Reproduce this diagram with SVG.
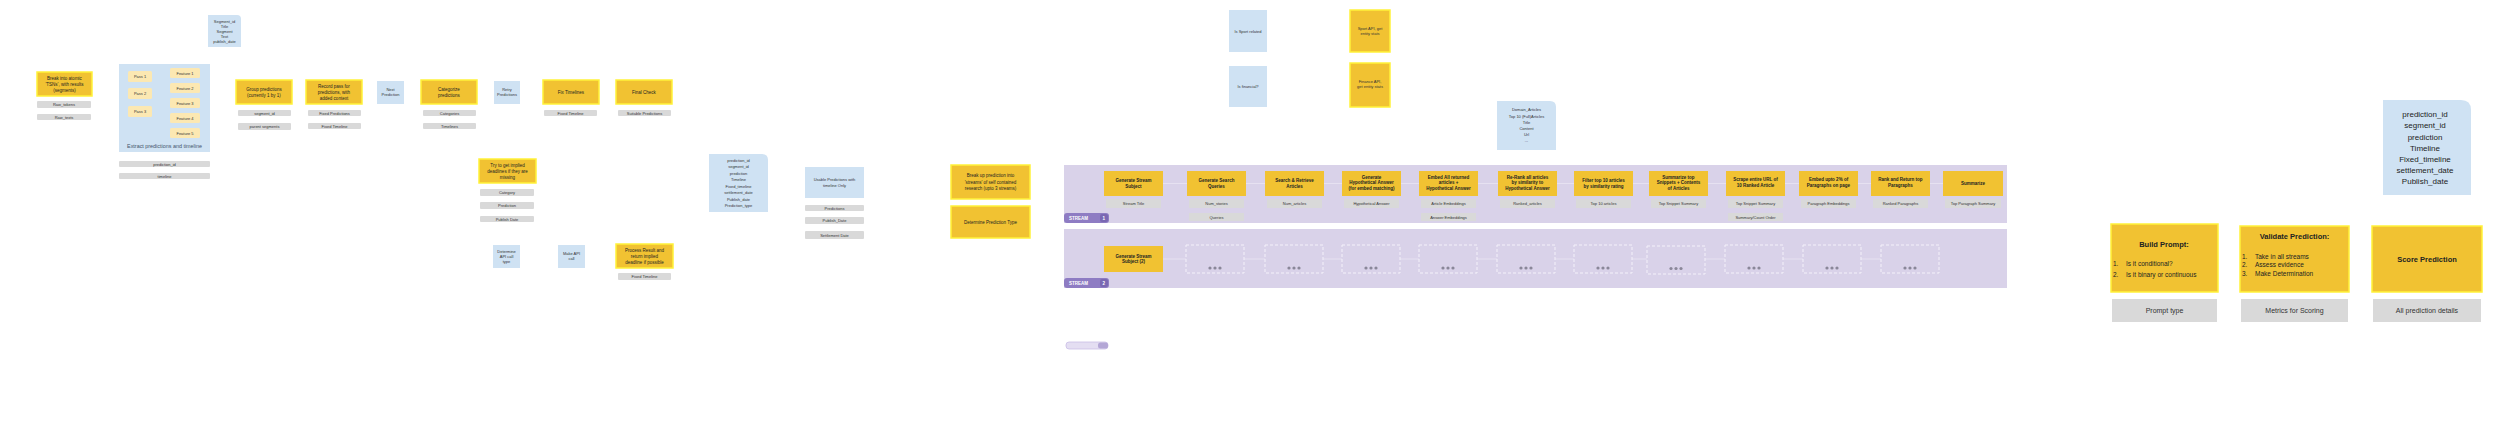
<svg xmlns="http://www.w3.org/2000/svg" width="2500" height="423" viewBox="0 0 2500 423">
<defs>
<style>
.y{fill:#F1C232;stroke:#FFF23A;stroke-width:1.5}
.yl{fill:#F1C232}
.yp{fill:#FCE8B2}
.b{fill:#CFE2F3}
.g{fill:#D9D9D9}
.lane{fill:#D9D2E9}
.tag{fill:#8E7CC3}
.dash{fill:none;stroke:#F4F1FA;stroke-width:1;stroke-dasharray:3 2}
.t{font-family:"Liberation Sans",Arial,sans-serif;font-size:4.5px;fill:#222;text-anchor:middle}
.tb{font-family:"Liberation Sans",Arial,sans-serif;font-size:4.5px;font-weight:bold;fill:#222;text-anchor:middle}
.ts{font-family:"Liberation Sans",Arial,sans-serif;font-size:4px;fill:#333;text-anchor:middle}
.tw{font-family:"Liberation Sans",Arial,sans-serif;font-size:4.5px;font-weight:bold;fill:#fff}
.tl{font-family:"Liberation Sans",Arial,sans-serif;font-size:8px;fill:#222;text-anchor:middle}
.tL{font-family:"Liberation Sans",Arial,sans-serif;font-size:7px;fill:#333;text-anchor:middle}
.tm{font-family:"Liberation Sans",Arial,sans-serif;font-size:6.5px;fill:#222}
.tbig{font-family:"Liberation Sans",Arial,sans-serif;font-size:7.5px;font-weight:bold;fill:#222;text-anchor:middle}
.dot{fill:#8A8799}
.c{fill:none;stroke:#E6E1F1;stroke-width:1}
.cw{fill:none;stroke:#FFFFFF;stroke-width:2}
</style>
</defs>
<rect width="2500" height="423" fill="#FFFFFF"/>

<g id="lanes">
<rect class="lane" x="1064" y="165" width="943" height="58"/>
<rect class="lane" x="1064" y="229" width="943" height="59"/>
<rect class="tag" x="1064" y="213" width="45" height="10" rx="3"/>
<rect fill="#7A68B3" x="1100" y="214" width="8" height="8" rx="2"/>
<text class="tw" x="1069" y="219.6">STREAM</text><text class="tw" x="1102.5" y="219.6">1</text>
<rect class="tag" x="1064" y="278" width="45" height="10" rx="3"/>
<rect fill="#7A68B3" x="1100" y="279" width="8" height="8" rx="2"/>
<text class="tw" x="1069" y="284.6">STREAM</text><text class="tw" x="1102.5" y="284.6">2</text>
<rect x="1066" y="342" width="42" height="7" rx="3" fill="#E4DEF2" stroke="#C9BEE6" stroke-width="0.8"/>
<rect x="1098" y="342.5" width="10" height="6" rx="2.5" fill="#B4A7D6"/>
</g>

<g id="connectors">
<line class="cw" x1="2427" y1="195" x2="2427" y2="226"/>
<line class="cw" x1="990" y1="199" x2="990" y2="206"/>
<path class="c" d="M1163 183.5H1187M1246 183.5H1265M1324 183.5H1342M1401 183.5H1419M1478 183.5H1498M1557 183.5H1574M1633 183.5H1649M1708 183.5H1726M1785 183.5H1799M1858 183.5H1871M1930 183.5H1943"/>
<path class="c" d="M1163 259H1186M1244 259H1265M1323 259H1342M1400 259H1419M1477 259H1497M1555 259H1574M1632 259H1647M1705 259H1725M1783 259H1803M1861 259H1881"/>
</g>

<g id="n-note-top">
<path class="b" d="M208 15H237Q241 15 241 19V47H208Z"/>
<text class="ts" x="224.5" y="23">Segment_id</text>
<text class="ts" x="224.5" y="28">Title</text>
<text class="ts" x="224.5" y="33">Segment</text>
<text class="ts" x="224.5" y="38">Text</text>
<text class="ts" x="224.5" y="43">publish_date</text>
</g>

<g id="n-break-atomic">
<rect class="y" x="37" y="72" width="55" height="24"/>
<text class="t" x="64.5" y="79.5">Break into atomic</text>
<text class="t" x="64.5" y="85.5">'TSNs', with results</text>
<text class="t" x="64.5" y="91.5">(segments)</text>
<rect class="g" x="37" y="101" width="54" height="7" rx="1"/><text class="ts" x="64" y="106">Raw_tokens</text>
<rect class="g" x="37" y="114" width="54" height="6" rx="1"/><text class="ts" x="64" y="118.5">Raw_texts</text>
</g>

<g id="n-extract">
<rect class="b" x="119" y="64" width="91" height="88"/>
<rect class="yp" x="128" y="71" width="24" height="11" rx="1.5"/><text class="ts" x="140" y="78">Pass 1</text>
<rect class="yp" x="128" y="88" width="24" height="11" rx="1.5"/><text class="ts" x="140" y="95">Pass 2</text>
<rect class="yp" x="128" y="106" width="24" height="11" rx="1.5"/><text class="ts" x="140" y="113">Pass 3</text>
<rect class="yp" x="170" y="68" width="30" height="10" rx="1.5"/><text class="ts" x="185" y="74.5">Feature 1</text>
<rect class="yp" x="170" y="83" width="30" height="10" rx="1.5"/><text class="ts" x="185" y="89.5">Feature 2</text>
<rect class="yp" x="170" y="98" width="30" height="10" rx="1.5"/><text class="ts" x="185" y="104.5">Feature 3</text>
<rect class="yp" x="170" y="113" width="30" height="10" rx="1.5"/><text class="ts" x="185" y="119.5">Feature 4</text>
<rect class="yp" x="170" y="128" width="30" height="10" rx="1.5"/><text class="ts" x="185" y="134.5">Feature 5</text>
<text x="164.5" y="148" style="font-family:'Liberation Sans',Arial,sans-serif;font-size:5.4px;fill:#44546A;text-anchor:middle">Extract predictions and timeline</text>
<rect class="g" x="119" y="161" width="91" height="6" rx="1"/><text class="ts" x="164.5" y="165.5">prediction_id</text>
<rect class="g" x="119" y="173" width="91" height="6" rx="1"/><text class="ts" x="164.5" y="177.5">timeline</text>
</g>

<g id="n-group">
<rect class="y" x="236" y="80" width="56" height="24"/>
<text class="t" x="264" y="90.5">Group predictions</text>
<text class="t" x="264" y="96.5">(currently 1 by 1)</text>
<rect class="g" x="238" y="110" width="53" height="6" rx="1"/><text class="ts" x="264.5" y="114.5">segment_id</text>
<rect class="g" x="238" y="123" width="53" height="7" rx="1"/><text class="ts" x="264.5" y="128">parent segments</text>
</g>

<g id="n-record">
<rect class="y" x="306" y="80" width="56" height="24"/>
<text class="t" x="334" y="87.5">Record pass for</text>
<text class="t" x="334" y="93.5">predictions, with</text>
<text class="t" x="334" y="99.5">added context</text>
<rect class="g" x="308" y="110" width="53" height="6" rx="1"/><text class="ts" x="334.5" y="114.5">Fixed Predictions</text>
<rect class="g" x="308" y="123" width="53" height="6" rx="1"/><text class="ts" x="334.5" y="127.5">Fixed Timeline</text>
</g>

<g id="n-next">
<rect class="b" x="377" y="81" width="27" height="23"/>
<text class="ts" x="390.5" y="91">Next</text>
<text class="ts" x="390.5" y="96">Prediction</text>
</g>

<g id="n-categorize">
<rect class="y" x="421" y="80" width="56" height="24"/>
<text class="t" x="449" y="90.5">Categorize</text>
<text class="t" x="449" y="96.5">predictions</text>
<rect class="g" x="423" y="110" width="53" height="6" rx="1"/><text class="ts" x="449.5" y="114.5">Categories</text>
<rect class="g" x="423" y="123" width="53" height="6" rx="1"/><text class="ts" x="449.5" y="127.5">Timelines</text>
</g>

<g id="n-retry">
<rect class="b" x="494" y="81" width="26" height="23"/>
<text class="ts" x="507" y="91">Retry</text>
<text class="ts" x="507" y="96">Predictions</text>
</g>

<g id="n-fix-timelines">
<rect class="y" x="543" y="80" width="56" height="24"/>
<text class="t" x="571" y="93.5">Fix Timelines</text>
<rect class="g" x="544" y="110" width="53" height="6" rx="1"/><text class="ts" x="570.5" y="114.5">Fixed Timeline</text>
</g>

<g id="n-final-check">
<rect class="y" x="616" y="80" width="56" height="24"/>
<text class="t" x="644" y="93.5">Final Check</text>
<rect class="g" x="618" y="110" width="53" height="6" rx="1"/><text class="ts" x="644.5" y="114.5">Suitable Predictions</text>
</g>

<g id="n-implied">
<rect class="y" x="479" y="159" width="57" height="24"/>
<text class="t" x="507.5" y="166.5">Try to get implied</text>
<text class="t" x="507.5" y="172.5">deadlines if they are</text>
<text class="t" x="507.5" y="178.5">missing</text>
<rect class="g" x="480" y="189" width="54" height="7" rx="1"/><text class="ts" x="507" y="194">Category</text>
<rect class="g" x="480" y="202" width="54" height="7" rx="1"/><text class="ts" x="507" y="207">Prediction</text>
<rect class="g" x="480" y="216" width="54" height="6" rx="1"/><text class="ts" x="507" y="220.5">Publish Date</text>
</g>

<g id="n-determine-api">
<rect class="b" x="493" y="245" width="27" height="23"/>
<text class="ts" x="506.5" y="252.5">Determine</text>
<text class="ts" x="506.5" y="257.5">API call</text>
<text class="ts" x="506.5" y="262.5">type</text>
</g>

<g id="n-make-api">
<rect class="b" x="558" y="245" width="27" height="23"/>
<text class="ts" x="571.5" y="255">Make API</text>
<text class="ts" x="571.5" y="260">call</text>
</g>

<g id="n-process-result">
<rect class="y" x="616" y="244" width="57" height="24"/>
<text class="t" x="644.5" y="251.5">Process Result and</text>
<text class="t" x="644.5" y="257.5">return implied</text>
<text class="t" x="644.5" y="263.5">deadline if possible</text>
<rect class="g" x="618" y="273" width="53" height="7" rx="1"/><text class="ts" x="644.5" y="278">Fixed Timeline</text>
</g>

<g id="n-record-fields">
<path class="b" d="M709 154H762Q768 154 768 160V212H709Z"/>
<text class="ts" x="738.5" y="161.5">prediction_id</text>
<text class="ts" x="738.5" y="168">segment_id</text>
<text class="ts" x="738.5" y="174.5">prediction</text>
<text class="ts" x="738.5" y="181">Timeline</text>
<text class="ts" x="738.5" y="187.5">Fixed_timeline</text>
<text class="ts" x="738.5" y="194">settlement_date</text>
<text class="ts" x="738.5" y="200.5">Publish_date</text>
<text class="ts" x="738.5" y="207">Prediction_type</text>
</g>

<g id="n-usable">
<rect class="b" x="805" y="167" width="59" height="31"/>
<text class="ts" x="834.5" y="181">Usable Predictions with</text>
<text class="ts" x="834.5" y="187">timeline Only</text>
<rect class="g" x="805" y="205" width="59" height="6" rx="1"/><text class="ts" x="834.5" y="209.5">Predictions</text>
<rect class="g" x="805" y="217" width="59" height="7" rx="1"/><text class="ts" x="834.5" y="222">Publish_Date</text>
<rect class="g" x="805" y="231" width="59" height="8" rx="1"/><text class="ts" x="834.5" y="236.5">Settlement Date</text>
</g>

<g id="n-break-streams">
<rect class="y" x="951" y="165" width="79" height="34"/>
<text class="t" x="990.5" y="177">Break up prediction into</text>
<text class="t" x="990.5" y="183.5">'streams' of self contained</text>
<text class="t" x="990.5" y="190">research (upto 3 streams)</text>
</g>

<g id="n-pred-type">
<rect class="y" x="951" y="206" width="79" height="32"/>
<text class="t" x="990.5" y="223.5">Determine Prediction Type</text>
</g>

<g id="n-sport">
<rect class="b" x="1229" y="10" width="38" height="42"/>
<text class="ts" x="1248" y="32.5">Is Sport related</text>
</g>
<g id="n-financial">
<rect class="b" x="1229" y="66" width="38" height="41"/>
<text class="ts" x="1248" y="88">Is financial?</text>
</g>
<g id="n-sport-api">
<rect class="y" x="1350" y="10" width="40" height="42"/>
<text class="ts" x="1370" y="29.5">Sport API, get</text>
<text class="ts" x="1370" y="35">entity stats</text>
</g>
<g id="n-finance-api">
<rect class="y" x="1350" y="63" width="40" height="44"/>
<text class="ts" x="1370" y="82.5">Finance API,</text>
<text class="ts" x="1370" y="88">get entity stats</text>
</g>

<g id="n-domain-articles">
<path class="b" d="M1497 101H1550Q1556 101 1556 107V150H1497Z"/>
<text class="ts" x="1526.5" y="111">Domain_Articles</text>
<text class="ts" x="1526.5" y="117.5">Top 10 (Full)Articles</text>
<text class="ts" x="1526.5" y="123.5">Title</text>
<text class="ts" x="1526.5" y="130">Content</text>
<text class="ts" x="1526.5" y="136">Url</text>
<text class="ts" x="1526.5" y="142">...</text>
</g>

<g id="s1-1"><rect class="yl" x="1104" y="171" width="59" height="25"/>
<text class="tb" x="1133.5" y="182">Generate Stream</text><text class="tb" x="1133.5" y="187.5">Subject</text>
<rect class="g" x="1106" y="199" width="55" height="9"/><text class="ts" x="1133.5" y="205">Stream Title</text></g>

<g id="s1-2"><rect class="yl" x="1187" y="171" width="59" height="25"/>
<text class="tb" x="1216.5" y="182">Generate Search</text><text class="tb" x="1216.5" y="187.5">Queries</text>
<rect class="g" x="1189" y="199" width="55" height="9"/><text class="ts" x="1216.5" y="205">Num_stories</text>
<rect class="g" x="1189" y="213" width="55" height="8"/><text class="ts" x="1216.5" y="218.5">Queries</text></g>

<g id="s1-3"><rect class="yl" x="1265" y="171" width="59" height="25"/>
<text class="tb" x="1294.5" y="182">Search &amp; Retrieve</text><text class="tb" x="1294.5" y="187.5">Articles</text>
<rect class="g" x="1267" y="199" width="55" height="9"/><text class="ts" x="1294.5" y="205">Num_articles</text></g>

<g id="s1-4"><rect class="yl" x="1342" y="171" width="59" height="25"/>
<text class="tb" x="1371.5" y="178.5">Generate</text><text class="tb" x="1371.5" y="184">Hypothetical Answer</text><text class="tb" x="1371.5" y="189.5">(for embed matching)</text>
<rect class="g" x="1344" y="199" width="55" height="9"/><text class="ts" x="1371.5" y="205">Hypothetical Answer</text></g>

<g id="s1-5"><rect class="yl" x="1419" y="171" width="59" height="25"/>
<text class="tb" x="1448.5" y="178.5">Embed All returned</text><text class="tb" x="1448.5" y="184">articles +</text><text class="tb" x="1448.5" y="189.5">Hypothetical Answer</text>
<rect class="g" x="1421" y="199" width="55" height="9"/><text class="ts" x="1448.5" y="205">Article Embeddings</text>
<rect class="g" x="1421" y="213" width="55" height="8"/><text class="ts" x="1448.5" y="218.5">Answer Embeddings</text></g>

<g id="s1-6"><rect class="yl" x="1498" y="171" width="59" height="25"/>
<text class="tb" x="1527.5" y="178.5">Re-Rank all articles</text><text class="tb" x="1527.5" y="184">by similarity to</text><text class="tb" x="1527.5" y="189.5">Hypothetical Answer</text>
<rect class="g" x="1500" y="199" width="55" height="9"/><text class="ts" x="1527.5" y="205">Ranked_articles</text></g>

<g id="s1-7"><rect class="yl" x="1574" y="171" width="59" height="25"/>
<text class="tb" x="1603.5" y="182">Filter top 10 articles</text><text class="tb" x="1603.5" y="187.5">by similarity rating</text>
<rect class="g" x="1576" y="199" width="55" height="9"/><text class="ts" x="1603.5" y="205">Top 10 articles</text></g>

<g id="s1-8"><rect class="yl" x="1649" y="171" width="59" height="25"/>
<text class="tb" x="1678.5" y="178.5">Summarize top</text><text class="tb" x="1678.5" y="184">Snippets + Contents</text><text class="tb" x="1678.5" y="189.5">of Articles</text>
<rect class="g" x="1651" y="199" width="55" height="9"/><text class="ts" x="1678.5" y="205">Top Snippet Summary</text></g>

<g id="s1-9"><rect class="yl" x="1726" y="171" width="59" height="25"/>
<text class="tb" x="1755.5" y="181">Scrape entire URL of</text><text class="tb" x="1755.5" y="186.5">10 Ranked Article</text>
<rect class="g" x="1728" y="199" width="55" height="9"/><text class="ts" x="1755.5" y="205">Top Snippet Summary</text>
<rect class="g" x="1728" y="213" width="55" height="8"/><text class="ts" x="1755.5" y="218.5">Summary/Count Order</text></g>

<g id="s1-10"><rect class="yl" x="1799" y="171" width="59" height="25"/>
<text class="tb" x="1828.5" y="181">Embed upto 2% of</text><text class="tb" x="1828.5" y="186.5">Paragraphs on page</text>
<rect class="g" x="1801" y="199" width="55" height="9"/><text class="ts" x="1828.5" y="205">Paragraph Embeddings</text></g>

<g id="s1-11"><rect class="yl" x="1871" y="171" width="59" height="25"/>
<text class="tb" x="1900.5" y="181">Rank and Return top</text><text class="tb" x="1900.5" y="186.5">Paragraphs</text>
<rect class="g" x="1873" y="199" width="55" height="9"/><text class="ts" x="1900.5" y="205">Ranked Paragraphs</text></g>

<g id="s1-12"><rect class="yl" x="1943" y="171" width="60" height="25"/>
<text class="tb" x="1973" y="184.5">Summarize</text>
<rect class="g" x="1945" y="199" width="56" height="9"/><text class="ts" x="1973" y="205">Top Paragraph Summary</text></g>

<g id="s2-1"><rect class="yl" x="1104" y="246" width="59" height="26"/>
<text class="tb" x="1133.5" y="257.5">Generate Stream</text><text class="tb" x="1133.5" y="263">Subject (2)</text></g>

<g id="s2-placeholders">
<rect class="dash" x="1186" y="245" width="58" height="28"/>
<rect class="dash" x="1265" y="245" width="58" height="28"/>
<rect class="dash" x="1342" y="245" width="58" height="28"/>
<rect class="dash" x="1419" y="245" width="58" height="28"/>
<rect class="dash" x="1497" y="245" width="58" height="28"/>
<rect class="dash" x="1574" y="245" width="58" height="28"/>
<rect class="dash" x="1647" y="246" width="58" height="28"/>
<rect class="dash" x="1725" y="245" width="58" height="28"/>
<rect class="dash" x="1803" y="245" width="58" height="28"/>
<rect class="dash" x="1881" y="245" width="58" height="28"/>
<g class="dot">
<circle cx="1210" cy="268" r="1.6"/><circle cx="1215" cy="268" r="1.6"/><circle cx="1220" cy="268" r="1.6"/>
<circle cx="1289" cy="268" r="1.6"/><circle cx="1294" cy="268" r="1.6"/><circle cx="1299" cy="268" r="1.6"/>
<circle cx="1366" cy="268" r="1.6"/><circle cx="1371" cy="268" r="1.6"/><circle cx="1376" cy="268" r="1.6"/>
<circle cx="1443" cy="268" r="1.6"/><circle cx="1448" cy="268" r="1.6"/><circle cx="1453" cy="268" r="1.6"/>
<circle cx="1521" cy="268" r="1.6"/><circle cx="1526" cy="268" r="1.6"/><circle cx="1531" cy="268" r="1.6"/>
<circle cx="1598" cy="268" r="1.6"/><circle cx="1603" cy="268" r="1.6"/><circle cx="1608" cy="268" r="1.6"/>
<circle cx="1671" cy="268.5" r="1.6"/><circle cx="1676" cy="268.5" r="1.6"/><circle cx="1681" cy="268.5" r="1.6"/>
<circle cx="1749" cy="268" r="1.6"/><circle cx="1754" cy="268" r="1.6"/><circle cx="1759" cy="268" r="1.6"/>
<circle cx="1827" cy="268" r="1.6"/><circle cx="1832" cy="268" r="1.6"/><circle cx="1837" cy="268" r="1.6"/>
<circle cx="1905" cy="268" r="1.6"/><circle cx="1910" cy="268" r="1.6"/><circle cx="1915" cy="268" r="1.6"/>
</g>
</g>

<g id="n-prediction-fields">
<path class="b" d="M2383 100H2461Q2471 100 2471 110V195H2383Z"/>
<text class="tl" x="2425" y="117">prediction_id</text>
<text class="tl" x="2425" y="128">segment_id</text>
<text class="tl" x="2425" y="139.5">prediction</text>
<text class="tl" x="2425" y="150.5">Timeline</text>
<text class="tl" x="2425" y="161.5">Fixed_timeline</text>
<text class="tl" x="2425" y="173">settlement_date</text>
<text class="tl" x="2425" y="184">Publish_date</text>
</g>

<g id="n-build-prompt">
<rect class="y" x="2111" y="224" width="107" height="68"/>
<text class="tbig" x="2164" y="247">Build Prompt:</text>
<text class="tm" x="2113" y="265.5">1.</text><text class="tm" x="2126" y="265.5">Is it conditional?</text>
<text class="tm" x="2113" y="276.5">2.</text><text class="tm" x="2126" y="276.5">Is it binary or continuous</text>
<rect class="g" x="2112" y="299" width="105" height="23"/>
<text class="tL" x="2164.5" y="313">Prompt type</text>
</g>

<g id="n-validate">
<rect class="y" x="2240" y="226" width="109" height="66"/>
<text class="tbig" x="2294.5" y="238.5">Validate Prediction:</text>
<text class="tm" x="2242" y="258.5">1.</text><text class="tm" x="2255" y="258.5">Take in all streams</text>
<text class="tm" x="2242" y="267">2.</text><text class="tm" x="2255" y="267">Assess evidence</text>
<text class="tm" x="2242" y="275.5">3.</text><text class="tm" x="2255" y="275.5">Make Determination</text>
<rect class="g" x="2241" y="299" width="107" height="23"/>
<text class="tL" x="2294.5" y="313">Metrics for Scoring</text>
</g>

<g id="n-score">
<rect class="y" x="2372" y="226" width="110" height="66"/>
<text class="tbig" x="2427" y="261.5">Score Prediction</text>
<rect class="g" x="2373" y="299" width="108" height="23"/>
<text class="tL" x="2427" y="313">All prediction details</text>
</g>
</svg>
